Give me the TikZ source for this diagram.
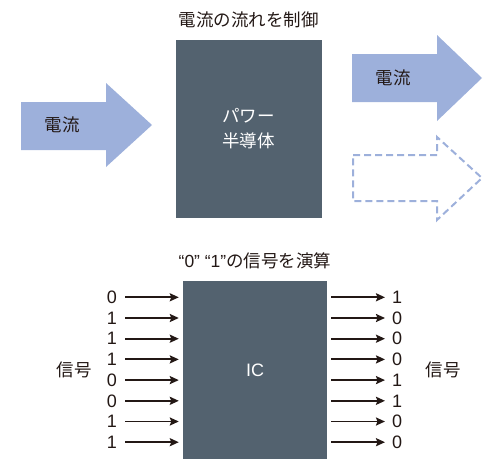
\documentclass[tikz,border=0pt]{standalone}
\usepackage{fontspec}
\setmainfont{Liberation Sans}
\newfontfamily\jpfont{Noto Sans CJK JP}
\usetikzlibrary{arrows.meta}

\definecolor{chipgray}{HTML}{53626F}
\definecolor{flowblue}{HTML}{9DB0DB}
\definecolor{ink}{HTML}{231815}

\begin{document}
\begin{tikzpicture}[x=1pt, y=-1pt,
        chip/.style={rectangle, fill=chipgray, inner sep=0pt, text=white, align=center,
          font=\jpfont\fontsize{17.5}{25}\selectfont},
        caption/.style={text=ink, inner sep=0pt, font=\jpfont\fontsize{17.5}{21}\selectfont},
        bit/.style={text=ink, inner sep=0pt, font=\fontsize{18}{20}\selectfont},
        flow/.style={fill=flowblue},
        ghost/.style={draw=flowblue, line width=2pt, dash pattern=on 7pt off 4pt},
        sig/.style={-{Stealth[length=9pt, width=8pt, inset=1.5pt]}, line width=1.9pt, draw=ink}
      ]
      \useasboundingbox (0,0) rectangle (500,474);

      % Power semiconductor
      \node[caption] (ctrl) at (248.5,20) {電流の流れを制御};
      \node[chip, minimum width=146pt, minimum height=178.5pt] (power) at (248.5,128.8) {パワー\\半導体};

      % Current arrows
      \fill[flow] (21,102) -- (106,102) -- (106,83) -- (152,125) -- (106,167) -- (106,150) -- (21,150) -- cycle;
      \node[caption] (cin) at (62,125) {電流};

      \fill[flow] (352,54) -- (437,54) -- (437,35) -- (482,78) -- (437,121) -- (437,102) -- (352,102) -- cycle;
      \node[caption] (cout) at (393,78) {電流};

      \draw[ghost] (353,155) -- (437,155) -- (437,137) -- (482,178) -- (437,220) -- (437,201) -- (353,201) -- cycle;

      % IC
      \node[caption] (calc) at (255,261) {\rmfamily “0” “1”\jpfont の信号を演算};
      \node[chip, minimum width=144pt, minimum height=178pt, font=\fontsize{18}{20}\selectfont] (ic) at (255,370) {IC};

      \node[caption] (sigin) at (74,370) {信号};
      \node[caption] (sigout) at (443,370) {信号};

      % Signal lines
      \foreach \a/\b [count=\i] in {0/1,1/0,1/0,1/0,0/1,0/1,1/0,1/0} {
        \node[bit, anchor=east] (in\i) at (117,297.3+20.7*\i-20.7) {\a};
        \node[bit, anchor=west] (out\i) at (392,297.3+20.7*\i-20.7) {\b};
        \draw[sig, shorten <=8pt, shorten >=4pt] (in\i.east) -- (in\i.east -| ic.west);
        \draw[sig, shorten <=4pt, shorten >=7pt] (out\i.west -| ic.east) -- (out\i.west);
      }
    \end{tikzpicture}
\end{document}
